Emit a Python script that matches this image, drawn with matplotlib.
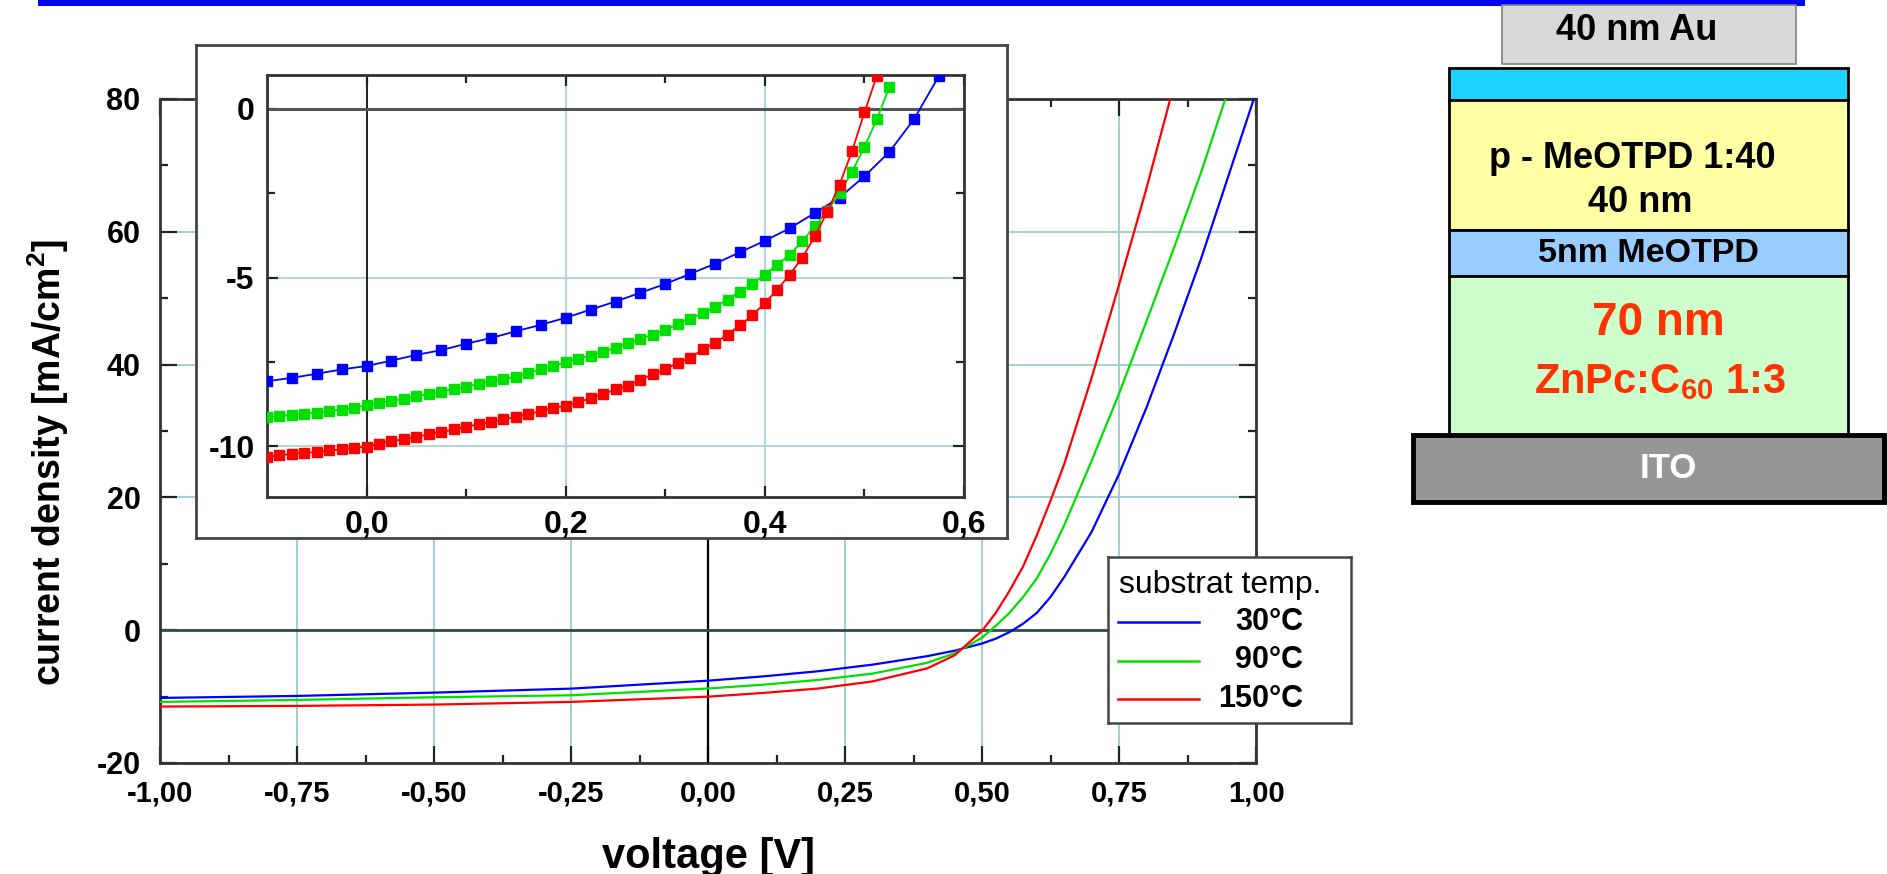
import numpy as np
import matplotlib
matplotlib.use("Agg")
import matplotlib.pyplot as plt
from matplotlib.patches import Rectangle
from matplotlib.ticker import MultipleLocator, FixedLocator, FuncFormatter

plt.rcParams.update({
    "font.family": ["Liberation Sans", "DejaVu Sans"],
    "mathtext.fontset": "custom",
    "mathtext.rm": "Liberation Sans",
    "mathtext.bf": "Liberation Sans:bold",
    "axes.unicode_minus": False,
})

# ── Data: main J-V curves (voltage [V], current density [mA/cm2]) ─────────
v_blue = [-1.0, -0.75, -0.5, -0.25, 0.0, 0.1, 0.2, 0.3, 0.4, 0.45, 0.5, 0.525,
          0.55, 0.575, 0.6, 0.625, 0.65, 0.7, 0.75, 0.8, 0.85, 0.9, 0.95, 1.0]
j_blue = [-10.2, -9.9, -9.4, -8.8, -7.6, -6.96, -6.19, -5.19, -3.91, -3.09, -2.0, -1.28,
          -0.3, 0.98, 2.6, 5.0, 8.0, 14.8, 23.5, 33.5, 44.5, 56.0, 68.5, 81.0]

v_green = [-1.0, -0.75, -0.5, -0.25, 0.0, 0.1, 0.2, 0.3, 0.4, 0.45, 0.5, 0.525,
           0.55, 0.575, 0.6, 0.625, 0.65, 0.7, 0.75, 0.8, 0.85, 0.9, 0.95]
j_green = [-10.8, -10.5, -10.1, -9.8, -8.78, -8.21, -7.5, -6.54, -4.91, -3.48, -1.13, 0.64,
           2.6, 5.0, 7.8, 11.5, 15.8, 25.5, 35.6, 46.5, 57.5, 69.0, 81.5]

v_red = [-1.0, -0.75, -0.5, -0.25, 0.0, 0.1, 0.2, 0.3, 0.4, 0.45, 0.5, 0.525,
         0.55, 0.575, 0.6, 0.625, 0.65, 0.7, 0.75, 0.8, 0.85]
j_red = [-11.5, -11.4, -11.2, -10.8, -10.01, -9.45, -8.79, -7.72, -5.75, -3.78, -0.11, 2.6,
         5.9, 9.6, 14.3, 19.5, 25.0, 38.0, 52.0, 66.5, 82.0]

# ── Data: inset (measured points, start at -0.1 V) ─────────────────────────
inset_step_blue = 0.025
inset_blue = [-8.07, -7.97, -7.85, -7.72, -7.62, -7.46, -7.29, -7.15, -6.96, -6.79,
              -6.59, -6.40, -6.19, -5.95, -5.71, -5.45, -5.19, -4.89, -4.59, -4.25,
              -3.91, -3.54, -3.09, -2.63, -2.00, -1.28, -0.30, 0.98]
inset_step_gr = 0.0125
inset_green = [-9.13, -9.10, -9.07, -9.03, -9.00, -8.95, -8.91, -8.86, -8.78, -8.71,
               -8.66, -8.59, -8.52, -8.45, -8.38, -8.30, -8.23, -8.15, -8.07, -8.00,
               -7.94, -7.82, -7.72, -7.62, -7.50, -7.41, -7.31, -7.20, -7.08, -6.95,
               -6.81, -6.69, -6.54, -6.39, -6.22, -6.05, -5.87, -5.65, -5.42, -5.19,
               -4.91, -4.62, -4.32, -3.93, -3.48, -3.04, -2.50, -1.87, -1.13, -0.31, 0.64]
inset_red = [-10.31, -10.27, -10.22, -10.19, -10.17, -10.12, -10.09, -10.04, -10.01, -9.92,
             -9.84, -9.79, -9.72, -9.64, -9.58, -9.50, -9.42, -9.35, -9.28, -9.20,
             -9.13, -9.05, -8.95, -8.87, -8.79, -8.69, -8.58, -8.46, -8.31, -8.21,
             -8.02, -7.87, -7.72, -7.52, -7.38, -7.13, -6.93, -6.69, -6.42, -6.12,
             -5.75, -5.36, -4.91, -4.42, -3.78, -3.07, -2.25, -1.26, -0.11, 0.98]

labels = ["30°C", "90°C", "150°C"]
colors = ["#0000ff", "#00e000", "#ff0000"]

# ── Layout helpers (pixel coords, origin top-left) ─────────────────────────
W, H = 1887, 874


def rect(x0, y0, x1, y1):
    return [x0 / W, 1 - y1 / H, (x1 - x0) / W, (y1 - y0) / H]


def comma(fmt):
    return FuncFormatter(lambda v, p: (fmt % v).replace(".", ",").replace("-0,0", "0,0"))


fig = plt.figure(figsize=(W / 100, H / 100), dpi=100)

# background canvas for the layer stack and the blue bar
bg = fig.add_axes([0, 0, 1, 1], zorder=-1)
bg.set_xlim(0, W)
bg.set_ylim(H, 0)
bg.axis("off")
bg.add_patch(Rectangle((38, 0), 1767, 6, fc="#0000ff", ec="none"))

layers = [  # x0, y0, x1, y1, face, edge, lw
    (1502, 5, 1796, 64, "#d9d9d9", "#808080", 1.2),
    (1449, 68, 1848, 100, "#1ed2ff", "black", 2),
    (1449, 100, 1848, 230, "#ffffa3", "black", 2),
    (1449, 230, 1848, 276, "#99ccff", "black", 2),
    (1449, 276, 1848, 435, "#ccffcc", "black", 2),
    (1413, 435, 1884, 502, "#969696", "black", 3.5),
]
for x0, y0, x1, y1, fc, ec, lw in layers:
    bg.add_patch(Rectangle((x0, y0), x1 - x0, y1 - y0, fc=fc, ec=ec, lw=lw))

red_txt = "#ff3300"
bg.text(1637, 30, "40 nm Au", ha="center", va="center", fontsize=26, fontweight="bold")
bg.text(1632, 158, "p - MeOTPD 1:40", ha="center", va="center", fontsize=26, fontweight="bold")
bg.text(1640, 203, "40 nm", ha="center", va="center", fontsize=26, fontweight="bold")
bg.text(1648, 253, "5nm MeOTPD", ha="center", va="center", fontsize=24.5, fontweight="bold")
bg.text(1658, 323, "70 nm", ha="center", va="center", fontsize=33, fontweight="bold", color=red_txt)
bg.text(1660, 382, r"ZnPc:C$_{\mathbf{60}}$ 1:3", ha="center", va="center", fontsize=30,
        fontweight="bold", color=red_txt)
bg.text(1668, 469, "ITO", ha="center", va="center", fontsize=25, fontweight="bold", color="white")

# ── Main plot ─────────────────────────────────────────────────────────────
ax = fig.add_axes(rect(160, 99, 1256, 763), zorder=1)
for v, j, c in zip([v_blue, v_green, v_red], [j_blue, j_green, j_red], colors):
    ax.plot(v, j, color=c, lw=1.6, zorder=3)
ax.set_xlim(-1, 1)
ax.set_ylim(-20, 80)
ax.xaxis.set_major_locator(MultipleLocator(0.25))
ax.xaxis.set_minor_locator(MultipleLocator(0.125))
ax.yaxis.set_major_locator(MultipleLocator(20))
ax.yaxis.set_minor_locator(MultipleLocator(10))
ax.xaxis.set_major_formatter(comma("%.2f"))
ax.grid(which="major", color="#9ccccc", lw=1.3, zorder=1)
ax.axvline(0, color="black", lw=1.6, zorder=2)
ax.axhline(0, color="#2f4f4f", lw=2, zorder=2)
ax.tick_params(which="both", direction="in", top=True, right=True, width=1.6, color="#222")
ax.tick_params(which="major", length=12, labelsize=21, pad=12)
ax.tick_params(axis="y", which="major", labelsize=22, pad=14)
ax.tick_params(which="minor", length=6)
for lab in ax.get_xticklabels() + ax.get_yticklabels():
    lab.set_fontweight("bold")
for s in ax.spines.values():
    s.set_color("#333333")
    s.set_linewidth(2)
ax.set_xlabel("voltage [V]", fontsize=30, fontweight="bold")
ax.set_ylabel(r"current density [mA/cm$^{\mathbf{2}}$]", fontsize=27, fontweight="bold")
ax.xaxis.set_label_coords(0.5, -0.1416)
ax.xaxis.label.set_va("center")
ax.yaxis.set_label_coords(-0.102, 0.452)
ax.yaxis.label.set_va("center")

# ── Inset ─────────────────────────────────────────────────────────────────
box = fig.add_axes(rect(196, 45, 1007, 538), zorder=5)
box.set_xticks([])
box.set_yticks([])
for s in box.spines.values():
    s.set_color("#444444")
    s.set_linewidth(2)

ins = fig.add_axes(rect(267, 75, 964, 497), zorder=6)
series = [(inset_blue, inset_step_blue), (inset_green, inset_step_gr), (inset_red, inset_step_gr)]
for (vals, step), c in zip(series, colors):
    vx = -0.1 + step * np.arange(len(vals))
    ins.plot(vx, vals, color=c, lw=1.3, marker="s", ms=6.5, mec=c, mfc=c, zorder=3)
ins.set_xlim(-0.1, 0.6)
ins.set_ylim(-11.5, 1)
ins.xaxis.set_major_locator(FixedLocator([0.0, 0.2, 0.4, 0.6]))
ins.xaxis.set_minor_locator(FixedLocator([0.1, 0.3, 0.5]))
ins.yaxis.set_major_locator(FixedLocator([-10, -5, 0]))
ins.yaxis.set_minor_locator(FixedLocator([-7.5, -2.5]))
ins.xaxis.set_major_formatter(comma("%.1f"))
ins.grid(which="major", color="#a8d4d4", lw=1.3, zorder=1)
ins.axvline(0, color="#222222", lw=1.4, zorder=2)
ins.axhline(0, color="#555555", lw=2.2, zorder=2)
ins.tick_params(which="both", direction="in", top=True, right=True, width=1.6, color="#222")
ins.tick_params(which="major", length=8, labelsize=23, pad=9)
ins.tick_params(which="minor", length=6)
for lab in ins.get_xticklabels() + ins.get_yticklabels():
    lab.set_fontweight("bold")
for s in ins.spines.values():
    s.set_color("#333333")
    s.set_linewidth(2)

# ── Legend box ────────────────────────────────────────────────────────────
leg = fig.add_axes(rect(1108, 557, 1351, 723), zorder=7)
leg.set_xlim(0, 243)
leg.set_ylim(166, 0)
leg.set_xticks([])
leg.set_yticks([])
for s in leg.spines.values():
    s.set_color("#444444")
    s.set_linewidth(1.8)
leg.text(11, 28, "substrat temp.", ha="left", va="center", fontsize=23)
for k, (lab, c) in enumerate(zip(labels, colors)):
    yk = 65 + 38.5 * k
    leg.plot([10, 91], [yk, yk], color=c, lw=1.8)
    leg.text(195, yk, lab, ha="right", va="center", fontsize=22, fontweight="bold")

fig.savefig("out.png", dpi=100)
